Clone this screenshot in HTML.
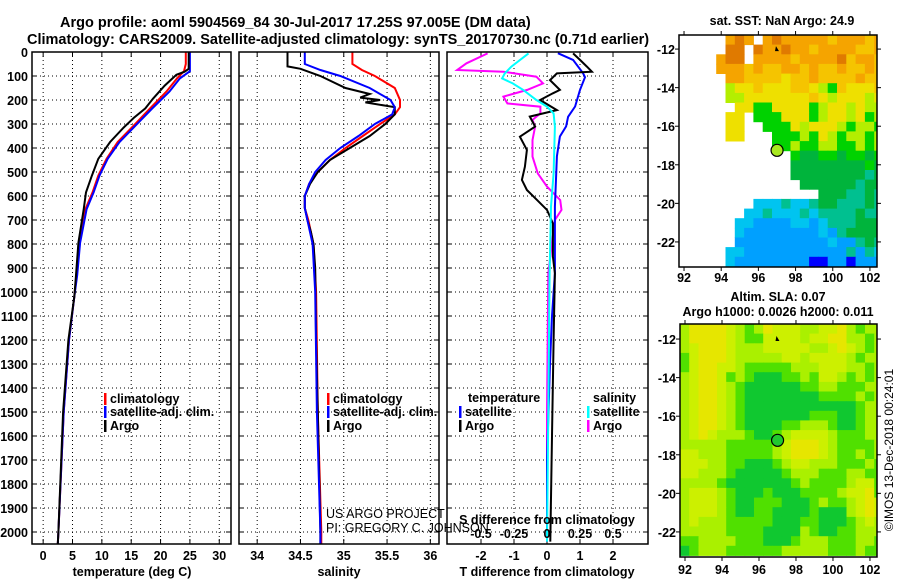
<!DOCTYPE html>
<html><head><meta charset="utf-8"><style>
html,body{margin:0;padding:0;background:#fff;}
svg{display:block;font-family:"Liberation Sans",sans-serif;}
.b{font-weight:bold;}
</style></head><body>
<svg id="chart" width="900" height="580" viewBox="0 0 900 580" xmlns="http://www.w3.org/2000/svg">
<text x="60" y="27" class="b" font-size="14.5">Argo profile: aoml 5904569_84 30-Jul-2017 17.25S 97.005E (DM data)</text>
<text x="27" y="44" class="b" font-size="14.5">Climatology: CARS2009. Satellite-adjusted climatology: synTS_20170730.nc (0.71d earlier)</text>
<text x="782" y="25" class="b" font-size="12.5" text-anchor="middle">sat. SST: NaN Argo: 24.9</text>
<text x="778" y="301" class="b" font-size="12.5" text-anchor="middle">Altim. SLA: 0.07</text>
<text x="778" y="316" class="b" font-size="12.5" text-anchor="middle">Argo h1000: 0.0026 h2000: 0.011</text>
<text x="0" y="0" font-size="12" text-anchor="middle" transform="translate(893,450) rotate(-90)">©IMOS 13-Dec-2018 00:24:01</text>
</svg>
<script>
// ---- profile data ----
const tDepthArgo=[0,70,82,95,140,195,235,275,315,375,445,515,585,655,795,930,1020,1200,1500,2000,2050];
const tArgo=[24.8,24.8,24.1,22.7,20.7,18.7,17.4,15.4,13.7,11.4,9.4,8.3,7.3,6.9,6.0,5.6,5.3,4.3,3.4,2.6,2.5];
const tDepthClim=[0,50,80,110,165,235,305,375,445,515,585,655,795,930,1020,1200,1500,2000,2050];
const tClim=[24.3,24.3,24.0,22.8,21.0,18.2,15.5,12.7,10.8,9.4,8.4,7.2,6.2,5.7,5.3,4.4,3.5,2.6,2.5];
const tSat=[25.0,25.0,25.0,23.3,21.5,18.6,15.8,13.0,11.0,9.6,8.6,7.4,6.3,5.8,5.3,4.4,3.5,2.6,2.5];
const sDepthArgo=[0,60,70,100,150,175,190,200,210,230,260,300,350,400,450,500,550,600,650,700,750,800,900,1200,1500,2000,2050];
const sArgo=[34.35,34.35,34.5,34.73,35.02,35.30,35.19,35.42,35.25,35.59,35.59,35.48,35.30,35.07,34.84,34.70,34.61,34.55,34.55,34.58,34.62,34.65,34.67,34.68,34.70,34.73,34.73];
const sDepthClim=[0,50,75,100,150,200,230,260,300,350,400,450,500,550,600,650,700,800,1000,1500,2000,2050];
const sClim=[35.10,35.10,35.21,35.36,35.59,35.65,35.65,35.59,35.42,35.22,35.02,34.84,34.70,34.60,34.55,34.55,34.59,34.65,34.68,34.70,34.74,34.74];
const sSat=[34.55,34.55,34.73,34.96,35.30,35.54,35.59,35.56,35.36,35.17,34.96,34.79,34.67,34.60,34.55,34.55,34.58,34.64,34.67,34.69,34.73,34.73];
const dTSatDepth=[5,33,88,105,158,227,270,310,352,435,644,922,1100,1300,1700,2040];
const dTSat=[0.33,0.79,1.09,1.15,1.0,0.85,0.64,0.58,0.39,0.30,0.24,0.24,0.15,0.09,0,0];
const dTArgoDepth=[6,33,61,82,89,117,158,172,200,242,269,311,353,408,478,533,575,617,658,714,853,922,1200,1600,2040];
const dTArgo=[0.79,1.0,1.21,1.36,0.30,0.09,0.39,0.18,-0.21,0.30,-0.52,-0.36,-0.82,-0.61,-0.67,-0.76,-0.61,-0.30,0,0.18,0.18,0.24,0.2,0.15,0.1];
const dSArgoDepth=[6,47,75,82,103,131,158,186,214,228,256,283,311,367,436,506,561,617,658,700,783,922,1500,2040];
const dSArgo=[-0.45,-0.61,-0.68,-0.33,-0.08,-0.03,-0.15,-0.33,-0.30,-0.05,-0.05,-0.11,-0.09,-0.11,-0.11,-0.07,0,0.10,0.11,0.06,0.04,0.01,0,0];
const dSSatDepth=[6,61,89,110,131,158,200,228,256,311,506,644,922,1500,2040];
const dSSat=[-0.14,-0.27,-0.32,-0.34,-0.26,-0.18,-0.08,0,0.05,0.06,0.05,0.03,0.02,0.01,0];
const depthTicks=[0,100,200,300,400,500,600,700,800,900,1000,1100,1200,1300,1400,1500,1600,1700,1800,1900,2000];
const tempTicks=[0,5,10,15,20,25,30];
const salTicks=[34,34.5,35,35.5,36];
const salTickLabels=["34","34.5","35","35.5","36"];
const dTTicks=[-2,-1,0,1,2];
const dSTicks=[-0.5,-0.25,0,0.25,0.5];
const dSTickLabels=["-0.5","-0.25","0","0.25","0.5"];
// ---- map data (0.5 deg grid, rows from north) ----
const sstRows=[
".....OoO.OoOOOOOyOOOyO",".....oo.oOOoOOyOOOOyyO","....Ooo.OOOOyOOOOoyOOy","....OOOyOyyOOyOyyOyyOy",
".....OOyyyyYyyOyyyyOyy",".....lYYyYYYyyYlgyYYYy",".....llYYYYYYYyYlYYYlY","......YYggYYYYglYYlYll",
".....YY.gggYYYglYYlYgl",".....YY..gggYlYYYlgllg",".....YY...ggglgYlgllgl","..........gglggllgglgl",
"............gGGggGggGg","............GGGGGGGGgG","............GGGGGGGGtG",".............GGGGGGtGG",
"...............GGGttGt","........ccctcctGGtttGt",".......cctccctcttttGtt","......ccbbbbccbctttGGG",
"......cbbbbbbbbcbtGGGG","......bbbbbbbbbbcbbtGt",".....ccbbbbbbbbbbbtbtc",".....cbbbbbbbbBBbbBbbb"];
const slaRows=[
"lYYYYylglYyyyllyyYlgll","lYYYYylggyyyylyyYYllgl","lyYYYylllyyyyyllyYylgl","gyYYYylllllyylyyyylgll",
"gyYYyylggggglllyyyllgl","lyYYyglgGGGgglgyylglgl","lyYYylgGGGGGGggllgggll","lyYYylgGGGGGGGGgggglgl",
"lyYYylgGGGGGGGGGGGGgll","lyYYylgGGGGGGGgggGGgll","lyYYylgGGGGgglllgGGgll","lyYylllgGGglyyyylgggll",
"lllllggggglyYYYylggggl","yylllggggglyYYYylgglgl","yyyllggGGGglyylllggglg","yylllgGGGGGglllgggllgg",
"llllgGGGGGGGglgggglyyg","lyyylgGGGgGGGgggglyyYg","lyyylgGGgggGGGglgglyYy","lyyylgGGggGGGGgGGGlyYy",
"lylllgggggGGGggGGGglyl","lllllggggGGGGlgGGgglll","ggllllgggGGGglllgggllg","Gglllgggggglllllggglgg"];
const sstColors={o:"#e07a00",O:"#f5a400",y:"#f5c400",Y:"#eee000",l:"#b4ee00",g:"#00d200",G:"#00b43c",t:"#00c090",c:"#00c4f0",b:"#00a0ff",B:"#0000ff"};
const slaColors={Y:"#e6e600",y:"#ccf000",l:"#aaf000",g:"#50e000",G:"#10c830"};
const lonTicks=[92,94,96,98,100,102];
const latTicks=[-12,-14,-16,-18,-20,-22];
const argoLon=97.005, argoLat=-17.25;

const NS="http://www.w3.org/2000/svg";
const svg=document.getElementById('chart');
function mk(tag,attrs,parent){const e=document.createElementNS(NS,tag);for(const k in attrs)e.setAttribute(k,attrs[k]);(parent||svg).appendChild(e);return e;}
const Y0=52,Y1=544,DMAX=2050;
function yD(d){return Y0+d/DMAX*(Y1-Y0);}
const panels=[
 {name:'temperature',x0:32,x1:231,min:-1.9,max:32},
 {name:'salinity',x0:239,x1:439,min:33.79,max:36.1},
 {name:'difference',x0:447,x1:648,min:-3.03,max:3.06}];
function xP(p,v){return p.x0+(v-p.min)/(p.max-p.min)*(p.x1-p.x0);}

panels.forEach((p,pi)=>{
  const g=mk('g',{});
  
  
  // grid
  const vt = pi===0?tempTicks:(pi===1?salTicks:dTTicks);
  vt.forEach(v=>{const l=mk('line',{x1:xP(p,v),x2:xP(p,v),y1:Y0,y2:Y1,stroke:'#000','stroke-width':1,'stroke-dasharray':'1,3'},g);
    
    
    const t1=mk('line',{x1:xP(p,v),x2:xP(p,v),y1:Y0,y2:Y0+5,stroke:'#000'},g);
    
    
    const t2=mk('line',{x1:xP(p,v),x2:xP(p,v),y1:Y1,y2:Y1-5,stroke:'#000'},g);
    
    
  });
  depthTicks.forEach(d=>{const l=mk('line',{x1:p.x0,x2:p.x1,y1:yD(d),y2:yD(d),stroke:'#000','stroke-width':1,'stroke-dasharray':'1,3'},g);
    
    
    const t1=mk('line',{x1:p.x0,x2:p.x0+5,y1:yD(d),y2:yD(d),stroke:'#000'},g);
    
    
    const t2=mk('line',{x1:p.x1,x2:p.x1-5,y1:yD(d),y2:yD(d),stroke:'#000'},g);
    
    
  });
  p.g=g;
});
// y labels
depthTicks.forEach(d=>{const t=mk('text',{x:28,y:yD(d)+5,'text-anchor':'end','font-size':12.5,'class':'b'});t.textContent=d;
  
  });
// x labels
tempTicks.forEach(v=>{const t=mk('text',{x:xP(panels[0],v),y:560,'text-anchor':'middle','font-size':12.5,'class':'b'});t.textContent=v;
  
  });
salTicks.forEach((v,i)=>{const t=mk('text',{x:xP(panels[1],v),y:560,'text-anchor':'middle','font-size':12.5,'class':'b'});t.textContent=salTickLabels[i];
  
  });
dTTicks.forEach(v=>{const t=mk('text',{x:xP(panels[2],v),y:560,'text-anchor':'middle','font-size':12.5,'class':'b'});t.textContent=v;
  
  });
dSTicks.forEach((v,i)=>{const t=mk('text',{x:xP(panels[2],v*4),y:538,'text-anchor':'middle','font-size':12.5,'class':'b'});t.textContent=dSTickLabels[i];
  
  });
[[132,'temperature (deg C)','temperature-axis-title'],[339,'salinity','salinity-axis-title'],[547,'T difference from climatology','t-diff-axis-title']].forEach(a=>{
  const t=mk('text',{x:a[0],y:576,'text-anchor':'middle','font-size':12.5,'class':'b'});t.textContent=a[1];
  
  });
const sdt=mk('text',{x:547,y:524,'text-anchor':'middle','font-size':12.5,'class':'b'});sdt.textContent='S difference from climatology';



function series(p,depths,vals,color,name,scale){
  const pts=depths.map((d,i)=>xP(p,vals[i]*(scale||1)).toFixed(1)+','+yD(d).toFixed(1)).join(' ');
  const l=mk('polyline',{points:pts,fill:'none',stroke:color,'stroke-width':2,'stroke-linejoin':'miter'},p.g);
  
  
}
series(panels[0],tDepthClim,tClim,'#ff0000','temp-climatology-line');
series(panels[0],tDepthClim,tSat,'#0000ff','temp-satellite-line');
series(panels[0],tDepthArgo,tArgo,'#000000','temp-argo-line');
series(panels[1],sDepthClim,sClim,'#ff0000','sal-climatology-line');
series(panels[1],sDepthArgo,sArgo,'#000000','sal-argo-line');
series(panels[1],sDepthClim,sSat,'#0000ff','sal-satellite-line');
series(panels[2],dSArgoDepth,dSArgo,'#ff00ff','sal-diff-argo-line',4);
series(panels[2],dTSatDepth,dTSat,'#0000ff','temp-diff-satellite-line');
series(panels[2],dTArgoDepth,dTArgo,'#000000','temp-diff-argo-line');
series(panels[2],dSSatDepth,dSSat,'#00ffff','sal-diff-satellite-line',4);
panels.forEach(p=>{const r=mk('rect',{x:p.x0,y:Y0,width:p.x1-p.x0,height:Y1-Y0,fill:'none',stroke:'#000','stroke-width':1.5});
  
  });

function legend(x,y,color,label,name){
  const g=mk('g',{});
  
  
  mk('rect',{x:x,y:y-10,width:2.5,height:12,fill:color},g);
  const t=mk('text',{x:x+6,y:y,'font-size':12.5,'class':'b'},g);t.textContent=label;
}
legend(104,403,'#ff0000','climatology','legend-temp-climatology');
legend(104,416,'#0000ff','satellite-adj. clim.','legend-temp-satellite');
legend(104,430,'#000000','Argo','legend-temp-argo');
legend(327,403,'#ff0000','climatology','legend-sal-climatology');
legend(327,416,'#0000ff','satellite-adj. clim.','legend-sal-satellite');
legend(327,430,'#000000','Argo','legend-sal-argo');
const th=mk('text',{x:468,y:402,'font-size':12.5,'class':'b'});th.textContent='temperature';


const sh=mk('text',{x:593,y:402,'font-size':12.5,'class':'b'});sh.textContent='salinity';


legend(459,416,'#0000ff','satellite','legend-tdiff-satellite');
legend(459,430,'#000000','Argo','legend-tdiff-argo');
legend(587,416,'#00ffff','satellite','legend-sdiff-satellite');
legend(587,430,'#ff00ff','Argo','legend-sdiff-argo');
const u1=mk('text',{x:326,y:518,'font-size':12.5});u1.textContent='US ARGO PROJECT';


const u2=mk('text',{x:326,y:532,'font-size':12.5});u2.textContent='PI: GREGORY C. JOHNSON';



// ---- maps ----
function drawMap(m,rows,colors,dotFill,name,labelY){
  const lonMin=91.73,lonMax=102.38,latMax=m.latTop,latMin=m.latBot;
  const mx=v=>m.x0+(v-lonMin)/(lonMax-lonMin)*(m.x1-m.x0);
  const my=v=>m.y0+(latMax-v)/(latMax-latMin)*(m.y1-m.y0);
  const g=mk('g',{});
  
  
  const cp=mk('clipPath',{id:name+'-clip'},g);
  mk('rect',{x:m.x0,y:m.y0,width:m.x1-m.x0,height:m.y1-m.y0},cp);
  const cg=mk('g',{'clip-path':'url(#'+name+'-clip)'},g);
  rows.forEach((row,r)=>{[...row].forEach((ch,c)=>{
    if(!colors[ch])return;
    const lo=lonMin+c*0.5, la=latMax-r*0.5;
    const x=mx(lo),y=my(la),w=mx(lo+0.5)-x+0.5,h=my(la-0.5)-y+0.5;
    const cell=mk('rect',{x:x.toFixed(1),y:y.toFixed(1),width:w.toFixed(1),height:h.toFixed(1),fill:colors[ch]},cg);
    
    
  });});
  const fr=mk('rect',{x:m.x0,y:m.y0,width:m.x1-m.x0,height:m.y1-m.y0,fill:'none',stroke:'#000','stroke-width':1.5},g);
  
  
  lonTicks.forEach(v=>{
    mk('line',{x1:mx(v),x2:mx(v),y1:m.y0,y2:m.y0-4,stroke:'#000'},g);
    mk('line',{x1:mx(v),x2:mx(v),y1:m.y1,y2:m.y1+4,stroke:'#000'},g);
    const t=mk('text',{x:mx(v),y:labelY,'text-anchor':'middle','font-size':12.5,'class':'b'},g);t.textContent=v;
    
    
  });
  latTicks.forEach(v=>{
    mk('line',{x1:m.x0,x2:m.x0-4,y1:my(v),y2:my(v),stroke:'#000'},g);
    mk('line',{x1:m.x1,x2:m.x1+4,y1:my(v),y2:my(v),stroke:'#000'},g);
    const t=mk('text',{x:m.x0-4,y:my(v)+5,'text-anchor':'end','font-size':12.5,'class':'b'},g);t.textContent=v;
    
    
  });
  const dot=mk('circle',{cx:mx(argoLon),cy:my(argoLat),r:6,fill:dotFill,stroke:'#000','stroke-width':1.2},g);
  
  
  const tri=mk('path',{d:'M'+(mx(97)-1)+' '+(my(-12)-3)+' l3 5 l-4 0 z',fill:'#000'},g);
  
  
}
drawMap({x0:679,x1:877,y0:35,y1:267,latTop:-11.27,latBot:-23.3},sstRows,sstColors,'#a8e820','sst-map',282);
drawMap({x0:680,x1:877,y0:324,y1:557,latTop:-11.22,latBot:-23.3},slaRows,slaColors,'#20c830','sla-map',574);
</script>
</body></html>
